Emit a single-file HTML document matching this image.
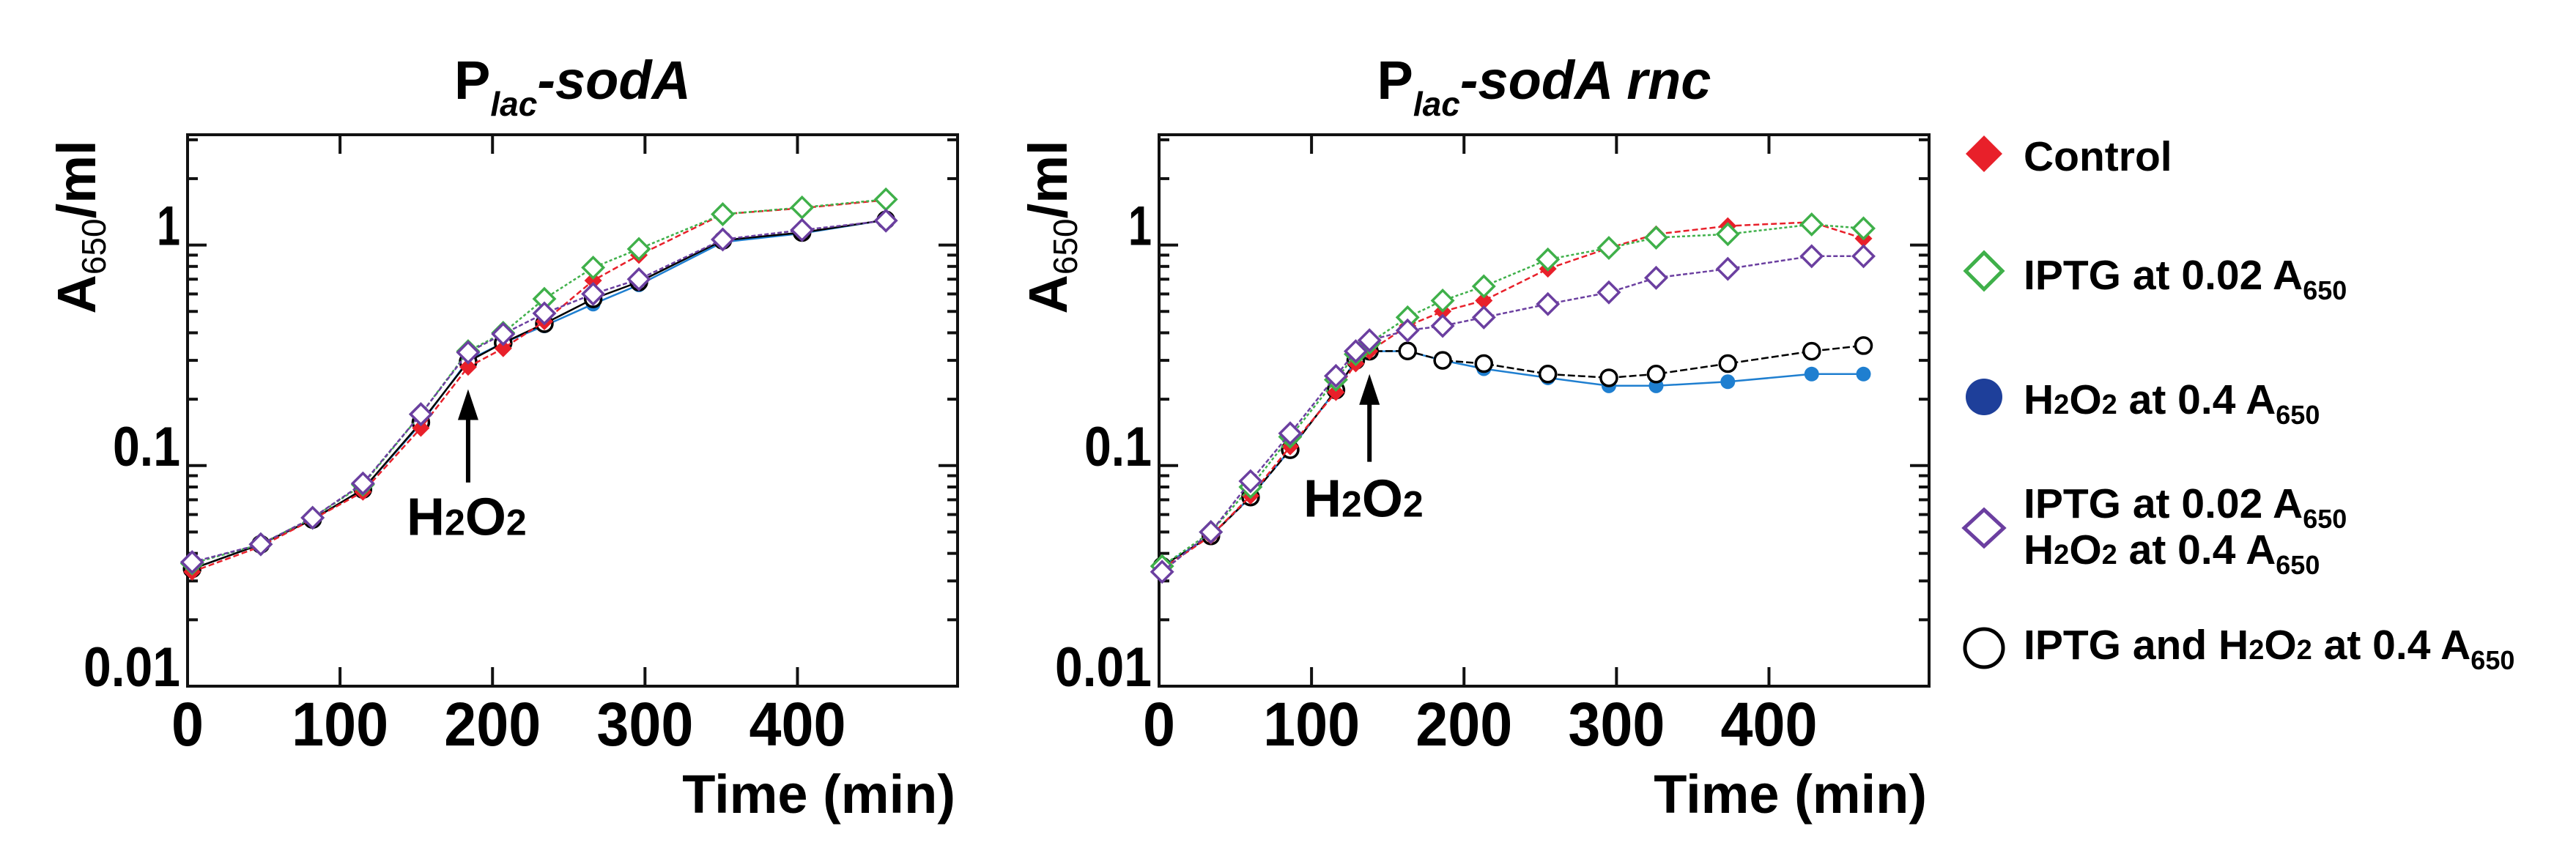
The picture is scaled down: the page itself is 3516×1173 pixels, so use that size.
<!DOCTYPE html>
<html><head><meta charset="utf-8"><style>
html,body{margin:0;padding:0;background:#fff;}
svg{display:block;}
text{font-family:"Liberation Sans",Arial,sans-serif;font-weight:bold;fill:#000;}
</style></head><body>
<svg id="fig" width="3516" height="1173" viewBox="0 0 3516 1173" xmlns="http://www.w3.org/2000/svg">
<g id="legend">
  <g>
    <polygon points="2708,185 2733,210 2708,235 2683,210" fill="#e8202a"/>
    <text x="2762" y="233" font-size="57">Control</text>
  </g>
  <g>
    <polygon points="2708,345 2733,370 2708,395 2683,370" fill="none" stroke="#3fb04a" stroke-width="5"/>
    <text x="2762" y="395" font-size="57">IPTG at 0.02 A<tspan font-size="36" dy="14">650</tspan></text>
  </g>
  <g>
    <circle cx="2708" cy="542" r="25" fill="#1e3f9a"/>
    <text x="2762" y="565" font-size="57">H<tspan font-size="38">2</tspan>O<tspan font-size="38">2</tspan> at 0.4 A<tspan font-size="36" dy="14">650</tspan></text>
  </g>
  <g>
    <polygon points="2708,696 2735,721 2708,746 2681,721" fill="none" stroke="#6b3fa0" stroke-width="5"/>
    <text x="2762" y="707" font-size="57">IPTG at 0.02 A<tspan font-size="36" dy="14">650</tspan></text>
    <text x="2762" y="770" font-size="57">H<tspan font-size="38">2</tspan>O<tspan font-size="38">2</tspan> at 0.4 A<tspan font-size="36" dy="14">650</tspan></text>
  </g>
  <g>
    <circle cx="2708" cy="885" r="26" fill="none" stroke="#000" stroke-width="5"/>
    <text x="2762" y="900" font-size="57">IPTG and H<tspan font-size="38">2</tspan>O<tspan font-size="38">2</tspan> at 0.4 A<tspan font-size="36" dy="14">650</tspan></text>
  </g>
</g>
</svg>
<script>
// ---- data ----
const timesLeft = [3, 48, 82, 115, 153, 184, 207, 234, 266, 296, 351, 403, 458];
const leftControl = [0.033, 0.043, 0.057, 0.076, 0.148, 0.28, 0.34, 0.45, 0.69, 0.90, 1.38, 1.47, 1.60];
const leftIptg = [0.036, 0.044, 0.058, 0.082, 0.171, 0.33, 0.40, 0.57, 0.79, 0.96, 1.38, 1.48, 1.61];
const leftH2o2 = [0.034, 0.044, 0.057, 0.078, 0.155, 0.30, 0.36, 0.43, 0.54, 0.66, 1.03, 1.13, 1.30];
const leftIptgH2o2 = [0.0365, 0.044, 0.058, 0.083, 0.171, 0.326, 0.395, 0.49, 0.60, 0.70, 1.06, 1.17, 1.29];
const leftBoth = [0.034, 0.044, 0.057, 0.078, 0.157, 0.296, 0.36, 0.44, 0.57, 0.68, 1.05, 1.14, 1.30];

const timesRight = [2, 34, 60, 86, 116, 129, 138, 163, 186, 213, 255, 295, 326, 373, 428, 462];
const rightControl = [0.034, 0.048, 0.073, 0.122, 0.215, 0.29, 0.33, 0.43, 0.50, 0.56, 0.78, 0.97, 1.12, 1.22, 1.27, 1.07];
const rightIptg = [0.035, 0.050, 0.080, 0.135, 0.245, 0.32, 0.36, 0.47, 0.56, 0.65, 0.86, 0.97, 1.08, 1.12, 1.24, 1.19];
const rightH2o2 = [0.035, 0.048, 0.072, 0.118, 0.22, 0.30, 0.33, 0.33, 0.30, 0.275, 0.25, 0.23, 0.23, 0.24, 0.26, 0.26];
const rightIptgH2o2 = [0.033, 0.050, 0.085, 0.14, 0.255, 0.33, 0.37, 0.41, 0.43, 0.47, 0.54, 0.61, 0.71, 0.78, 0.89, 0.89];
const rightBoth = [0.035, 0.048, 0.072, 0.118, 0.22, 0.30, 0.33, 0.331, 0.30, 0.29, 0.26, 0.25, 0.26, 0.29, 0.33, 0.35];

const xTicks = [0, 100, 200, 300, 400];
const yMajor = [0.01, 0.1, 1];
const yMajorLabels = ["0.01", "0.1", "1"];
const arrowLeft = {t: 184, tip: 0.222, tail: 0.0838, label: 0.0485, labelT: 183};
const arrowRight = {t: 138, tip: 0.26, tail: 0.104, label: 0.0588, labelT: 134};

// ---- drawing ----
const NS = "http://www.w3.org/2000/svg";
const svg = document.getElementById("fig");
const TOP = 184, BOT = 937, XMAX = 505, YMIN = -2, YMAX = 0.5;
function mk(tag, attrs, parent) {
  const e = document.createElementNS(NS, tag);
  for (const k in attrs) e.setAttribute(k, attrs[k]);
  (parent || svg).appendChild(e);
  return e;
}
function makePanel(left, right, name, titleMain, titleItalic, series, times, arrow) {
  const g = mk("g", {});
  
  
  const xs = t => left + (t / XMAX) * (right - left);
  const ys = v => BOT - (Math.log10(v) - YMIN) / (YMAX - YMIN) * (BOT - TOP);

  const title = mk("text", {x: (left + right) / 2, y: 135, "font-size": 74, "text-anchor": "middle"}, g);
  
  
  title.innerHTML = 'P<tspan font-size="46" font-style="italic" dy="23">lac</tspan><tspan dy="-23" font-style="italic">-' + titleItalic + '</tspan>';

  const yl = mk("text", {x: 0, y: 0, "font-size": 74, "text-anchor": "middle", transform: "translate(" + (left - 126) + "," + 310 + ") rotate(-90)"}, g);
  
  
  yl.innerHTML = 'A<tspan font-size="46" font-weight="normal" dy="14">650</tspan><tspan dy="-14">/ml</tspan>';

  const xl = mk("text", {x: right - 3, y: 1110, "font-size": 74, "text-anchor": "end"}, g);
  xl.textContent = "Time (min)";
  
  

  const fr = mk("rect", {x: left, y: TOP, width: right - left, height: BOT - TOP, fill: "none", stroke: "#111", "stroke-width": 4}, g);
  
  

  xTicks.forEach(t => {
    const x = xs(t);
    if (t > 0) {
      const a = mk("line", {x1: x, x2: x, y1: BOT, y2: BOT - 26, stroke: "#111", "stroke-width": 4}, g);
      
      
      const b = mk("line", {x1: x, x2: x, y1: TOP, y2: TOP + 26, stroke: "#111", "stroke-width": 4}, g);
      
      
    }
    const s = String(t);
    const lb = mk("text", {x: x, y: 1018, "font-size": 84, "text-anchor": "middle", textLength: s.length * 44, lengthAdjust: "spacingAndGlyphs"}, g);
    lb.textContent = s;
    
    
  });

  for (let d = -2; d <= 0; d++) {
    for (let m = 1; m <= 9; m++) {
      const v = m * Math.pow(10, d);
      if (Math.log10(v) > YMAX) continue;
      if (d === -2 && m === 1) continue;
      const y = ys(v);
      const len = m === 1 ? 26 : 14;
      const a = mk("line", {x1: left, x2: left + len, y1: y, y2: y, stroke: "#111", "stroke-width": 4}, g);
      
      
      const b = mk("line", {x1: right, x2: right - len, y1: y, y2: y, stroke: "#111", "stroke-width": 4}, g);
      
      
    }
  }
  yMajor.forEach((v, i) => {
    const s = yMajorLabels[i];
    const lb = mk("text", {x: left - 10, y: ys(v), "font-size": 76, "text-anchor": "end", textLength: s.length === 1 ? 32 : (s.length === 3 ? 92 : 132), lengthAdjust: "spacingAndGlyphs"}, g);
    lb.textContent = s;
    
    
  });

  series.forEach(s => {
    const sg = mk("g", {}, g);
    
    
    const pts = s.vals.map((v, i) => xs(times[i]).toFixed(1) + "," + ys(v).toFixed(1)).join(" ");
    const pl = mk("polyline", {points: pts, fill: "none", stroke: s.line, "stroke-width": 2.5, "stroke-dasharray": s.dash || "none"}, sg);
    
    
    s.vals.forEach((v, i) => {
      const x = xs(times[i]), y = ys(v);
      let m;
      if (s.marker === "fdiamond" || s.marker === "odiamond") {
        const r = s.marker === "fdiamond" ? 12 : 14;
        m = mk("polygon", {points: [x, y - r, x + r, y, x, y + r, x - r, y].join(","), fill: s.marker === "fdiamond" ? s.color : "#fff", stroke: s.color, "stroke-width": s.marker === "fdiamond" ? 0 : 3.5}, sg);
      } else if (s.marker === "fcircle") {
        m = mk("circle", {cx: x, cy: y, r: 10, fill: s.color}, sg);
      } else {
        m = mk("circle", {cx: x, cy: y, r: 11, fill: "#fff", stroke: s.color, "stroke-width": 3.5}, sg);
      }
      
      
    });
  });

  const ax = xs(arrow.t);
  const al = mk("line", {x1: ax, x2: ax, y1: ys(arrow.tail), y2: ys(arrow.tip) + 30, stroke: "#000", "stroke-width": 6}, g);
  
  
  const ah = mk("polygon", {points: [ax, ys(arrow.tip), ax + 14, ys(arrow.tip) + 42, ax - 14, ys(arrow.tip) + 42].join(","), fill: "#000"}, g);
  
  
  const at = mk("text", {x: xs(arrow.labelT), y: ys(arrow.label), "font-size": 72, "text-anchor": "middle"}, g);
  at.innerHTML = 'H<tspan font-size="50">2</tspan>O<tspan font-size="50">2</tspan>';
  
  
}

const BLUE = "#1f7fd0";
makePanel(256, 1307, "panel-plac-soda", "P", "sodA", [
  {name: "h2o2", vals: leftH2o2, color: BLUE, line: BLUE, marker: "fcircle"},
  {name: "iptg-and-h2o2", vals: leftBoth, color: "#000", line: "#000", marker: "ocircle"},
  {name: "control", vals: leftControl, color: "#e8202a", line: "#e8202a", marker: "fdiamond", dash: "8 4"},
  {name: "iptg", vals: leftIptg, color: "#3fb04a", line: "#3fb04a", marker: "odiamond", dash: "4 3"},
  {name: "iptg-h2o2", vals: leftIptgH2o2, color: "#6b3fa0", line: "#6b3fa0", marker: "odiamond", dash: "6 3"}
], timesLeft, arrowLeft);
makePanel(1582, 2633, "panel-plac-soda-rnc", "P", "sodA rnc", [
  {name: "h2o2", vals: rightH2o2, color: BLUE, line: BLUE, marker: "fcircle"},
  {name: "iptg-and-h2o2", vals: rightBoth, color: "#000", line: "#000", marker: "ocircle", dash: "10 4"},
  {name: "control", vals: rightControl, color: "#e8202a", line: "#e8202a", marker: "fdiamond", dash: "8 4"},
  {name: "iptg", vals: rightIptg, color: "#3fb04a", line: "#3fb04a", marker: "odiamond", dash: "4 3"},
  {name: "iptg-h2o2", vals: rightIptgH2o2, color: "#6b3fa0", line: "#6b3fa0", marker: "odiamond", dash: "6 3"}
], timesRight, arrowRight);
</script>
</body></html>
